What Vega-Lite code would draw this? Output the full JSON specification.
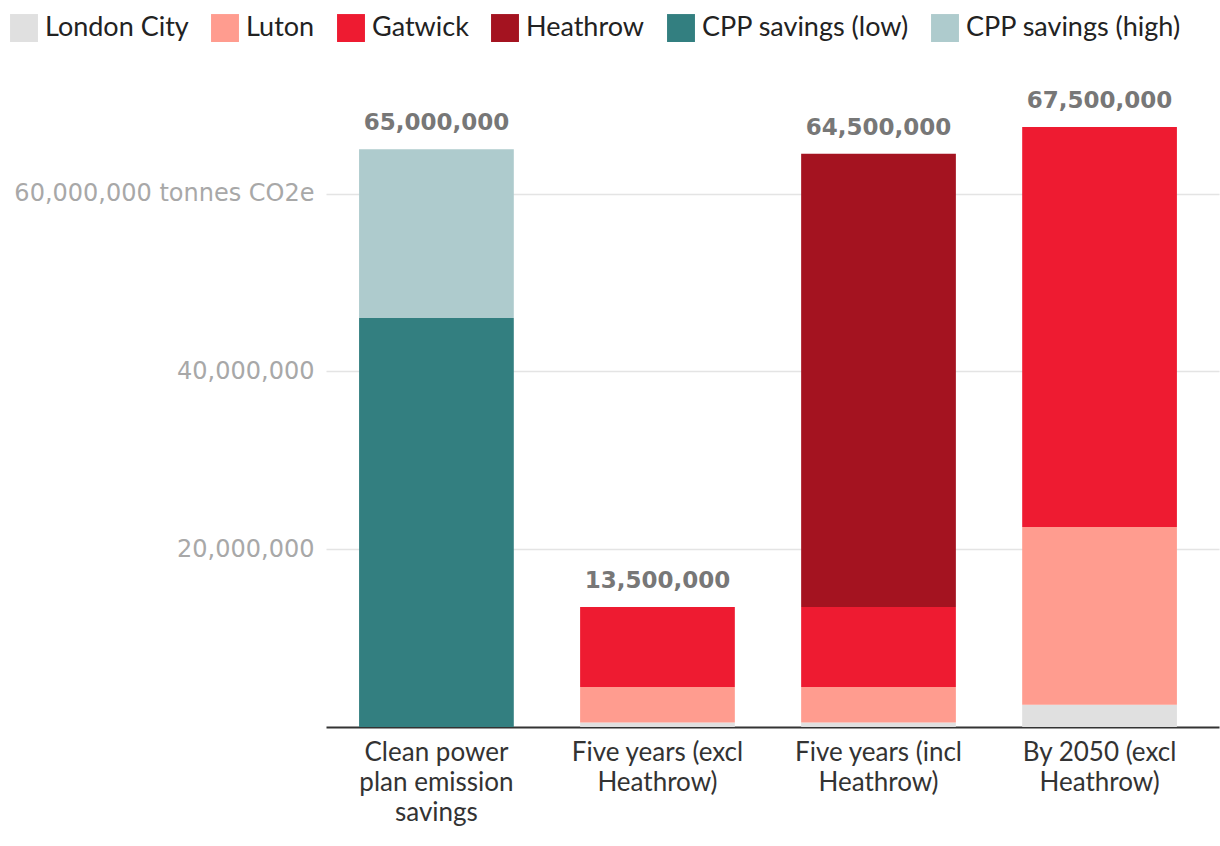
{
  "$schema": "https://vega.github.io/schema/vega-lite/v6.json",
  "width": 893,
  "height": 640,
  "autosize": {"type": "none"},
  "padding": {"left": 326, "top": 87, "right": 1, "bottom": 119},
  "background": "white",
  "config": {"view": {"stroke": null}},
  "data": {
    "values": [
      {"category": "Clean power plan emission savings", "series": "CPP savings (low)", "value": 46000000, "order": 1},
      {"category": "Clean power plan emission savings", "series": "CPP savings (high)", "value": 19000000, "order": 2},
      {"category": "Five years (excl Heathrow)", "series": "London City", "value": 500000, "order": 1},
      {"category": "Five years (excl Heathrow)", "series": "Luton", "value": 4000000, "order": 2},
      {"category": "Five years (excl Heathrow)", "series": "Gatwick", "value": 9000000, "order": 3},
      {"category": "Five years (incl Heathrow)", "series": "London City", "value": 500000, "order": 1},
      {"category": "Five years (incl Heathrow)", "series": "Luton", "value": 4000000, "order": 2},
      {"category": "Five years (incl Heathrow)", "series": "Gatwick", "value": 9000000, "order": 3},
      {"category": "Five years (incl Heathrow)", "series": "Heathrow", "value": 51000000, "order": 4},
      {"category": "By 2050 (excl Heathrow)", "series": "London City", "value": 2500000, "order": 1},
      {"category": "By 2050 (excl Heathrow)", "series": "Luton", "value": 20000000, "order": 2},
      {"category": "By 2050 (excl Heathrow)", "series": "Gatwick", "value": 45000000, "order": 3}
    ]
  },
  "encoding": {
    "x": {
      "field": "category",
      "type": "nominal",
      "sort": null,
      "scale": {"paddingInner": 0.3, "paddingOuter": 0.17, "align": 0.44},
      "axis": {
        "title": null,
        "labelAngle": 0,
        "labelFont": "Lato",
        "labelFontSize": 26,
        "labelColor": "#333333",
        "labelPadding": 12,
        "labelLineHeight": 30,
        "labelLimit": 300,
        "labelBaseline": "top",
        "ticks": false,
        "domainColor": "#333333",
        "domainWidth": 2,
        "labelExpr": "datum.label == 'Clean power plan emission savings' ? ['Clean power', 'plan emission', 'savings'] : datum.label == 'Five years (excl Heathrow)' ? ['Five years (excl', 'Heathrow)'] : datum.label == 'Five years (incl Heathrow)' ? ['Five years (incl', 'Heathrow)'] : ['By 2050 (excl', 'Heathrow)']"
      }
    }
  },
  "layer": [
    {
      "mark": {"type": "bar"},
      "encoding": {
        "y": {
          "field": "value",
          "type": "quantitative",
          "stack": "zero",
          "scale": {"domain": [0, 72000000], "nice": false},
          "axis": {
            "title": null,
            "values": [20000000, 40000000, 60000000],
            "labelExpr": "datum.value == 60000000 ? format(datum.value, ',') + ' tonnes CO2e' : format(datum.value, ',')",
            "labelFont": "DejaVu Sans",
            "labelFontSize": 24,
            "labelColor": "#a8a8a8",
            "labelPadding": 12,
            "labelLimit": 400,
            "ticks": false,
            "domain": false,
            "gridColor": "#e4e4e4",
            "gridWidth": 1.5
          }
        },
        "color": {
          "field": "series",
          "type": "nominal",
          "scale": {
            "domain": ["London City", "Luton", "Gatwick", "Heathrow", "CPP savings (low)", "CPP savings (high)"],
            "range": ["#e0e0e0", "#ff9c8f", "#ee1b31", "#a41320", "#337f80", "#aecbcd"]
          },
          "legend": {
            "title": null,
            "orient": "none",
            "legendX": -316,
            "legendY": -73,
            "direction": "horizontal",
            "symbolType": "square",
            "symbolSize": 780,
            "symbolStrokeWidth": 0,
            "labelFont": "Lato",
            "labelFontSize": 27,
            "labelColor": "#222222",
            "labelOffset": 7,
            "columnPadding": 22,
            "labelLimit": 400
          }
        },
        "order": {"field": "order", "type": "quantitative"}
      }
    },
    {
      "transform": [
        {"aggregate": [{"op": "sum", "field": "value", "as": "total"}], "groupby": ["category"]}
      ],
      "mark": {"type": "text", "font": "DejaVu Sans", "fontSize": 23, "fontWeight": "bold", "color": "#777777", "dy": -14, "baseline": "bottom"},
      "encoding": {
        "y": {"field": "total", "type": "quantitative"},
        "text": {"field": "total", "type": "quantitative", "format": ","}
      }
    }
  ]
}
